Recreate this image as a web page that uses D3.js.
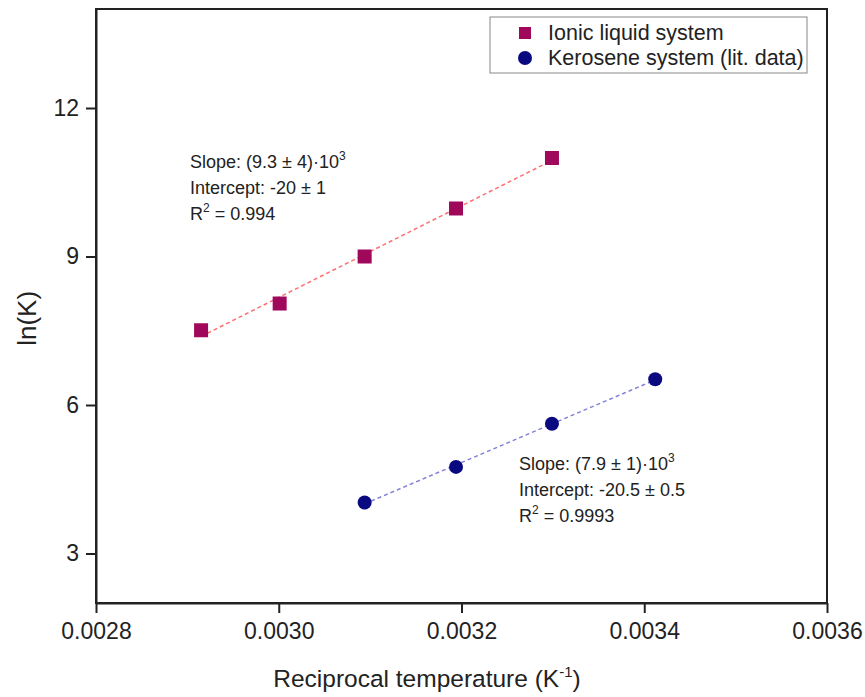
<!DOCTYPE html>
<html>
<head>
<meta charset="utf-8">
<script src="https://cdn.jsdelivr.net/npm/d3@7"></script>
<style>
  body { margin: 0; background: #fff; }
  svg { font-family: "Liberation Sans", Arial, sans-serif; }
</style>
</head>
<body>
<div id="chart"></div>
<script>
// data
const ionicX = [0.002915, 0.003001, 0.003094, 0.003194, 0.003299];
const ionicY = [7.51, 8.05, 9.0, 9.97, 10.99];
const keroX = [0.003094, 0.003194, 0.003299, 0.003412];
const keroY = [4.03, 4.75, 5.62, 6.52];
const xTicks = [0.0028, 0.0030, 0.0032, 0.0034, 0.0036];
const yTicks = [3, 6, 9, 12];

const W = 865, H = 697;
const margin = { top: 9, right: 38, bottom: 94, left: 96 };
const width = W - margin.left - margin.right;
const height = H - margin.top - margin.bottom;

const svgRoot = d3.select('#chart').append('svg')
    .attr('width', W)
    .attr('height', H);

const svg = svgRoot.append('g')
    .attr('transform', `translate(${margin.left},${margin.top})`);

const x = d3.scaleLinear().domain([0.0028, 0.0036]).range([0, width]);
const y = d3.scaleLinear().domain([2, 14]).range([height, 0]);

// least squares fit for the dashed lines
function fit(xs, ys) {
    const mx = d3.mean(xs), my = d3.mean(ys);
    let sxy = 0, sxx = 0;
    xs.forEach((v, i) => { sxy += (v - mx) * (ys[i] - my); sxx += (v - mx) * (v - mx); });
    const b = sxy / sxx;
    const a = my - b * mx;
    const x0 = d3.min(xs), x1 = d3.max(xs);
    return [[x0, a + b * x0], [x1, a + b * x1]];
}

const line = d3.line().x(d => x(d[0])).y(d => y(d[1]));

// frame
svg.append('rect')
    .attr('width', width)
    .attr('height', height)
    .style('fill', 'none')
    .style('stroke', '#222')
    .style('stroke-width', 2);

const xAxis = d3.axisBottom(x).tickValues(xTicks).tickFormat(d3.format('.4f')).tickSize(10).tickSizeOuter(0);
const yAxis = d3.axisLeft(y).tickValues(yTicks).tickSize(10).tickSizeOuter(0);

const gx = svg.append('g')
    .attr('transform', `translate(0,${height})`)
    .call(xAxis);
const gy = svg.append('g').call(yAxis);

[gx, gy].forEach(g => {
    g.select('.domain').style('stroke', '#222').style('stroke-width', 2);
    g.selectAll('.tick line').style('stroke', '#222').style('stroke-width', 2);
    g.selectAll('.tick text')
        .style('font-size', '23px')
        .style('font-family', '"Liberation Sans", Arial, sans-serif')
        .style('fill', '#222');
});
gx.selectAll('.tick text').attr('dy', '1.0em');
gy.selectAll('.tick text').attr('x', -17);

// axis titles
const xt = svg.append('text')
    .attr('x', 427 - margin.left)
    .attr('y', height + 84)
    .style('text-anchor', 'middle')
    .style('font-size', '24.5px')
    .style('fill', '#222');
xt.append('tspan').text('Reciprocal temperature (K');
xt.append('tspan').attr('dy', -10).style('font-size', '15px').text('-1');
xt.append('tspan').attr('dy', 10).text(')');

svg.append('text')
    .attr('transform', `translate(${-60},${y(7.75)}) rotate(-90)`)
    .style('text-anchor', 'middle')
    .style('font-size', '26px')
    .style('fill', '#222')
    .text('ln(K)');

// fit lines
svg.append('path')
    .datum(fit(ionicX, ionicY))
    .attr('d', line)
    .style('fill', 'none')
    .style('stroke', '#ff6f6f')
    .style('stroke-width', 1.5)
    .style('stroke-dasharray', '4,3');

svg.append('path')
    .datum(fit(keroX, keroY))
    .attr('d', line)
    .style('fill', 'none')
    .style('stroke', '#7f7fd6')
    .style('stroke-width', 1.5)
    .style('stroke-dasharray', '4,3');

// points
const sq = 14;
svg.selectAll('.ionic')
    .data(ionicX.map((v, i) => [v, ionicY[i]]))
    .enter().append('rect')
    .attr('class', 'ionic')
    .attr('x', d => x(d[0]) - sq / 2)
    .attr('y', d => y(d[1]) - sq / 2)
    .attr('width', sq)
    .attr('height', sq)
    .style('fill', '#a0085c');

svg.selectAll('.kero')
    .data(keroX.map((v, i) => [v, keroY[i]]))
    .enter().append('circle')
    .attr('class', 'kero')
    .attr('cx', d => x(d[0]))
    .attr('cy', d => y(d[1]))
    .attr('r', 7)
    .style('fill', '#0a0a80');

// annotations
function note(x0, y0, slope, intercept, r2) {
    const g = svg.append('g').style('font-size', '18px').style('fill', '#222');
    const t1 = g.append('text').attr('x', x0).attr('y', y0);
    t1.append('tspan').text(`Slope: (${slope})\u00b710`);
    t1.append('tspan').attr('dy', -8).style('font-size', '12px').text('3');
    g.append('text').attr('x', x0).attr('y', y0 + 26).text(`Intercept: ${intercept}`);
    const t3 = g.append('text').attr('x', x0).attr('y', y0 + 52);
    t3.append('tspan').text('R');
    t3.append('tspan').attr('dy', -8).style('font-size', '12px').text('2');
    t3.append('tspan').attr('dy', 8).text(` = ${r2}`);
}
note(190 - margin.left, 168 - margin.top, '9.3 \u00b1 4', '-20 \u00b1 1', '0.994');
note(519 - margin.left, 470 - margin.top, '7.9 \u00b1 1', '-20.5 \u00b1 0.5', '0.9993');

// legend
const lg = svg.append('g').attr('transform', `translate(${490 - margin.left},${17 - margin.top})`);
lg.append('rect')
    .attr('width', 317)
    .attr('height', 56)
    .style('fill', '#fff')
    .style('stroke', '#888')
    .style('stroke-width', 1);
lg.append('rect')
    .attr('x', 35 - 6).attr('y', 16 - 6)
    .attr('width', 12).attr('height', 12)
    .style('fill', '#a0085c');
lg.append('circle')
    .attr('cx', 35).attr('cy', 41).attr('r', 7)
    .style('fill', '#0a0a80');
lg.append('text').attr('x', 58).attr('y', 23).style('font-size', '21.5px').style('fill', '#222').text('Ionic liquid system');
lg.append('text').attr('x', 58).attr('y', 48).style('font-size', '21.5px').style('fill', '#222').text('Kerosene system (lit. data)');
</script>
</body>
</html>
